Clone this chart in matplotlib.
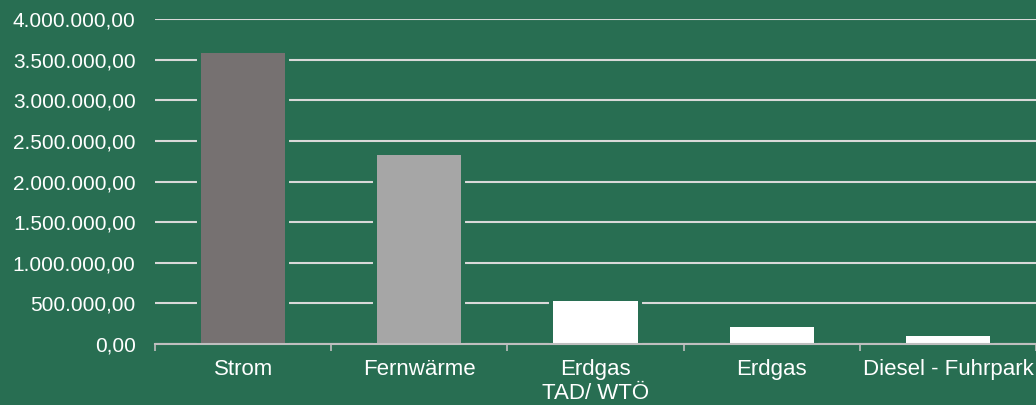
import numpy as np
import matplotlib.pyplot as plt
from matplotlib.ticker import FuncFormatter, FixedLocator

# values
categories = ["Strom", "Fernwärme", "Erdgas\nTAD/ WTÖ", "Erdgas", "Diesel - Fuhrpark"]
values = [3580000, 2330000, 525000, 215000, 100000]
colors = ["#767171", "#A6A6A6", "#FFFFFF", "#FFFFFF", "#FFFFFF"]
yticks = np.arange(0, 4000001, 500000)

bg = "#286E52"
plt.rcParams['font.family'] = ['Liberation Sans', 'DejaVu Sans']


def de_fmt(v, pos=None):
    s = "{:,.2f}".format(v)
    return s.replace(",", "X").replace(".", ",").replace("X", ".")


fig = plt.figure(figsize=(10.36, 4.05), dpi=100, facecolor=bg)
ax = fig.add_axes([155 / 1036, 61 / 405, 881 / 1036, 325 / 405])
ax.set_facecolor(bg)

x = np.arange(len(categories))
# halo in background colour, cuts the gridlines next to the bars
ax.bar(x, values, width=0.477, color=bg, edgecolor=bg, linewidth=5.8, zorder=1.5)
ax.bar(x, values, width=0.477, color=colors, linewidth=0, zorder=2)

ax.set_xlim(-0.5, len(categories) - 0.5)
ax.set_ylim(0, 4000000)
ax.set_yticks(yticks)
ax.yaxis.set_major_formatter(FuncFormatter(de_fmt))
ax.tick_params(axis='y', length=0, pad=14, labelsize=15, labelcolor='white')
ax.grid(axis='y', color='#D9D9D9', linewidth=1.5, zorder=1)
ax.set_axisbelow(True)

# category boundaries as tick marks, names as minor ticks
ax.xaxis.set_major_locator(FixedLocator(np.arange(len(categories) + 1) - 0.5))
ax.set_xticklabels([])
ax.xaxis.set_minor_locator(FixedLocator(x))
ax.set_xticklabels(categories, minor=True)
ax.tick_params(axis='x', which='major', length=5, width=1.2, color='#BFBFBF')
ax.tick_params(axis='x', which='minor', length=0, pad=11, labelsize=16, labelcolor='white')

for s in ['top', 'right', 'left']:
    ax.spines[s].set_visible(False)
ax.spines['bottom'].set_color('#BFBFBF')
ax.spines['bottom'].set_linewidth(1.5)
ax.spines['bottom'].set_zorder(3)

fig.savefig("out.png", dpi=100, facecolor=bg)
